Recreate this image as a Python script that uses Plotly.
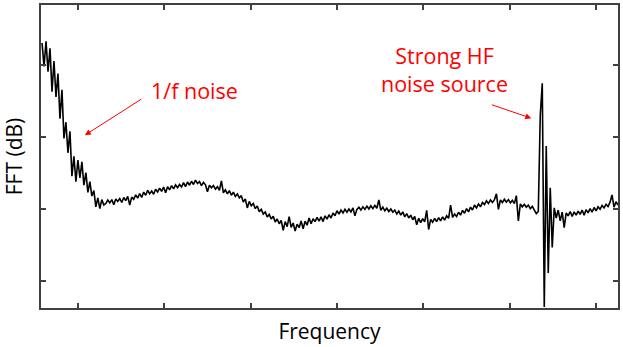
import numpy as np
import plotly.graph_objects as go

# FFT magnitude (dB), split into frequency segments
seg_1f = [-14.0, -20.5, -13.5, -22.0, -15.5, -27.5, -19.0, -29.0, -22.5, -35.0,
          -27.0, -40.5, -36.0, -44.5, -38.5, -51.0, -45.5, -52.5, -46.5, -51.5,
          -47.0, -53.5, -50.0, -55.5, -52.5, -56.5, -55.0, -59.5, -57.0, -60.0,
          -57.5, -59.0]
seg_rise = [-58.6, -57.6, -58.4, -57.5, -58.9, -57.3, -58.0, -57.2, -58.3, -56.9,
            -57.8, -56.6, -59.0, -56.8, -57.4, -56.2, -57.1, -55.8, -56.9, -55.4,
            -56.3, -54.9, -55.9, -55.1, -56.0, -54.6, -55.4, -54.3, -55.2, -54.0,
            -55.6, -53.9, -54.8, -53.6, -54.5, -53.4, -54.2, -53.3, -54.0, -52.8,
            -53.9, -52.6, -53.5, -52.4, -53.3, -52.1, -53.0, -52.5, -53.6, -52.7,
            -53.4, -55.3, -53.5, -54.2, -53.6, -54.6, -53.9, -54.9]
seg_dip = [-52.3, -55.6, -54.8, -55.9, -55.0, -56.3, -55.4, -56.6, -55.9, -57.0,
           -56.4, -58.2, -57.3, -59.8, -58.0, -59.2, -58.6, -60.0, -59.3, -60.9,
           -60.2, -61.5, -60.9, -62.3, -61.6, -62.9, -62.1, -63.7, -62.9, -64.2,
           -63.3, -66.0, -63.6, -65.0, -62.2, -65.2, -64.0, -66.2, -64.3, -65.3,
           -63.4, -65.6, -63.5, -64.6, -62.6, -64.2, -62.8, -63.6, -62.4, -63.5]
seg_hump = [-62.3, -63.6, -62.0, -62.9, -61.7, -62.6, -61.2, -62.0, -60.6, -61.5,
            -60.4, -61.2, -60.2, -61.0, -60.1, -60.9, -59.8, -62.0, -60.2, -59.6,
            -60.4, -59.5, -60.2, -59.3, -60.1, -59.2, -60.0, -59.1, -59.9, -57.6,
            -60.5, -59.6, -60.6, -59.9, -60.8, -60.1, -61.0, -60.4, -61.5, -60.7,
            -61.8, -60.9, -62.3, -61.4, -62.6, -61.8, -63.1, -62.2, -64.5, -62.7]
seg_pre = [-63.9, -62.8, -63.7, -60.5, -65.8, -63.0, -63.8, -62.7, -63.6, -62.5,
           -63.4, -62.3, -63.2, -62.0, -62.7, -59.0, -62.4, -61.5, -62.2, -61.0,
           -61.8, -60.5, -61.3, -60.0, -60.9, -59.6, -60.4, -59.0, -59.8, -58.7,
           -59.5, -58.3, -58.9, -57.8, -58.6, -57.6, -58.3, -57.5, -55.9, -60.2,
           -57.6, -58.3, -57.4, -58.2, -57.5, -58.4, -57.7, -58.6, -56.4, -63.4,
           -58.7, -59.5, -58.8, -59.6, -59.0, -60.0, -59.4, -60.6, -61.4]
seg_hf = [-60.8, -34.0, -25.2, -87.3, -42.6, -77.9, -54.2, -70.8, -59.8, -62.6,
          -60.4, -63.4, -61.0, -65.3, -61.2, -62.0, -60.8, -62.2, -60.9, -61.8,
          -60.7, -61.6, -60.4, -61.8, -60.3, -61.2, -60.0, -61.0, -59.7, -60.6,
          -59.5, -60.2, -59.1, -59.8, -58.8, -59.4, -58.2, -56.2, -59.6, -58.1,
          -59.0]

fft_db = seg_1f + seg_rise + seg_dip + seg_hump + seg_pre + seg_hf
F_START, F_END = 5.85, 72.54          # frequency span of the samples (a.u.)
freq = np.linspace(F_START, F_END, len(fft_db))

x_ticks = [10, 20, 30, 40, 50, 60, 70]
y_ticks = [-80, -60, -40, -20]
x_range = [5.73, 72.54]
y_range = [-87.6, -3.45]

RED = "#ff0000"
AXC = "#404040"
FONT = "Open Sans"

fig = go.Figure()
fig.add_trace(go.Scatter(x=freq, y=fft_db, mode="lines",
                         line=dict(color="black", width=1.6),
                         hoverinfo="skip", showlegend=False))

axis_common = dict(showgrid=False, zeroline=False, showticklabels=False,
                   ticks="inside", ticklen=5, tickwidth=1.5, tickcolor=AXC,
                   showline=True, linecolor=AXC, linewidth=2, mirror="ticks")

fig.update_xaxes(range=x_range, tickvals=x_ticks, **axis_common,
                 title=dict(text="Frequency", font=dict(family=FONT, size=21, color="black"),
                            standoff=15))
fig.update_yaxes(range=y_range, tickvals=y_ticks, **axis_common,
                 title=dict(text="FFT (dB)", font=dict(family=FONT, size=21, color="black"),
                            standoff=13))

# text labels
fig.add_annotation(x=23.5, y=-27.2, text="1/f noise", showarrow=False,
                   font=dict(family=FONT, size=21.5, color=RED))
fig.add_annotation(x=52.46, y=-21.4, text="Strong HF<br>noise source", showarrow=False,
                   font=dict(family=FONT, size=21.5, color=RED))
# arrows
fig.add_annotation(x=10.81, y=-39.6, ax=58, ay=-37, text="", showarrow=True,
                   arrowhead=2, arrowsize=1.2, arrowwidth=1, arrowcolor=RED)
fig.add_annotation(x=62.5, y=-34.9, ax=-41, ay=-14, text="", showarrow=True,
                   arrowhead=2, arrowsize=1.2, arrowwidth=1, arrowcolor=RED)

fig.update_layout(width=623, height=347,
                  margin=dict(l=41, r=3, t=3, b=39),
                  paper_bgcolor="white", plot_bgcolor="white",
                  font=dict(family=FONT))

fig.write_html("out.html")
